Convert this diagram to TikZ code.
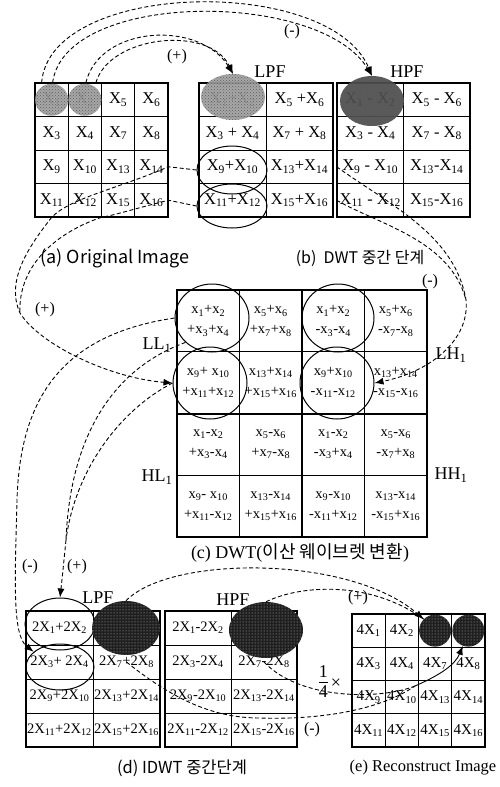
\documentclass[tikz,border=0pt]{standalone}
\usepackage{fontspec}
\setmainfont{Liberation Serif}
\newfontfamily\krfont{Noto Sans CJK KR}
\usetikzlibrary{shapes.geometric}
\usetikzlibrary{patterns}
\usetikzlibrary{arrows.meta}

\newcommand{\xs}[1]{X\textsubscript{#1}}
\newcommand{\ls}[1]{x\textsubscript{#1}}

\tikzset{
  cell/.style={draw, line width=0.8pt, inner sep=0pt},
  cella/.style={cell, minimum width=33.25pt, minimum height=33.5pt, font=\fontsize{16.5}{16}\selectfont},
  cellb/.style={cell, minimum width=67pt, minimum height=33.5pt, font=\fontsize{16.5}{16}\selectfont},
  cellc/.style={cell, minimum width=62.5pt, minimum height=61.75pt, align=center, font=\fontsize{14.5}{20}\selectfont},
  celld/.style={cell, minimum width=67pt, minimum height=34pt, font=\fontsize{14.5}{14}\selectfont},
  celle/.style={cell, minimum width=33.25pt, minimum height=33.25pt, font=\fontsize{15}{15}\selectfont},
  frame/.style={line width=2pt},
  grayblob/.style={ellipse, inner sep=0pt, fill=gray!75, fill opacity=0.92, postaction={pattern=crosshatch dots, pattern color=black!65}},
  darkblob/.style={ellipse, inner sep=0pt, fill=black!88, postaction={pattern=dots, pattern color=white!75!black}},
  ring/.style={ellipse, inner sep=0pt, draw, line width=1pt},
  conn/.style={line width=0.9pt, dash pattern=on 4pt off 2.5pt},
  lbl/.style={font=\fontsize{18}{18}\selectfont},
  sign/.style={font=\fontsize{16}{16}\selectfont},
  caption/.style={font=\fontsize{16}{16}\selectfont}
}

\begin{document}
\begin{tikzpicture}[x=1pt, y=-1pt, >={Latex[length=9pt,width=7pt]}]
\useasboundingbox (0,0) rectangle (499,787);

% (a) original image
\foreach \t [count=\n from 0] in {\xs{1},\xs{2},\xs{5},\xs{6},\xs{3},\xs{4},\xs{7},\xs{8},\xs{9},\xs{10},\xs{13},\xs{14},\xs{11},\xs{12},\xs{15},\xs{16}} {
  \pgfmathtruncatemacro\ri{int(\n/4)+1}
  \pgfmathtruncatemacro\ci{mod(\n,4)+1}
  \node[cella] (a\ri\ci) at ({35+33.25*(\ci-0.5)},{83+33.5*(\ri-0.5)}) {\t};
}
\draw[frame] (a11.north west) rectangle (a44.south east);

% (b) LPF and HPF
\foreach \t [count=\n from 0] in {\xs{1}+\xs{2},\xs{5} +\xs{6},\xs{3} + \xs{4},\xs{7} + \xs{8},\xs{9}+\xs{10},\xs{13}+\xs{14},\xs{11}+\xs{12},\xs{15}+\xs{16}} {
  \pgfmathtruncatemacro\ri{int(\n/2)+1}
  \pgfmathtruncatemacro\ci{mod(\n,2)+1}
  \node[cellb] (b\ri\ci) at ({199+67*(\ci-0.5)},{83+33.5*(\ri-0.5)}) {\t};
}
\draw[frame] (b11.north west) rectangle (b42.south east);
\foreach \t [count=\n from 0] in {\xs{1} - \xs{2},\xs{5} - \xs{6},\xs{3} - \xs{4},\xs{7} - \xs{8},\xs{9} - \xs{10},\xs{13}-\xs{14},\xs{11} - \xs{12},\xs{15}-\xs{16}} {
  \pgfmathtruncatemacro\ri{int(\n/2)+1}
  \pgfmathtruncatemacro\ci{mod(\n,2)+1}
  \node[cellb, minimum width=66.5pt] (h\ri\ci) at ({337+66.5*(\ci-0.5)},{83+33.5*(\ri-0.5)}) {\t};
}
\draw[frame] (h11.north west) rectangle (h42.south east);

% (c) DWT
\foreach \t [count=\n from 0] in {
  {\ls{1}+\ls{2}\\+\ls{3}+\ls{4}}, {\ls{5}+\ls{6}\\+\ls{7}+\ls{8}}, {\ls{1}+\ls{2}\\-\ls{3}-\ls{4}}, {\ls{5}+\ls{6}\\-\ls{7}-\ls{8}},
  {\ls{9}+ \ls{10}\\+\ls{11}+\ls{12}}, {\ls{13}+\ls{14}\\+\ls{15}+\ls{16}}, {\ls{9}+\ls{10}\\-\ls{11}-\ls{12}}, {\ls{13}+\ls{14}\\-\ls{15}-\ls{16}},
  {\ls{1}-\ls{2}\\+\ls{3}-\ls{4}}, {\ls{5}-\ls{6}\\+\ls{7}-\ls{8}}, {\ls{1}-\ls{2}\\-\ls{3}+\ls{4}}, {\ls{5}-\ls{6}\\-\ls{7}+\ls{8}},
  {\ls{9}- \ls{10}\\+\ls{11}-\ls{12}}, {\ls{13}-\ls{14}\\+\ls{15}+\ls{16}}, {\ls{9}-\ls{10}\\-\ls{11}+\ls{12}}, {\ls{13}-\ls{14}\\-\ls{15}+\ls{16}}} {
  \pgfmathtruncatemacro\ri{int(\n/4)+1}
  \pgfmathtruncatemacro\ci{mod(\n,4)+1}
  \node[cellc] (c\ri\ci) at ({177+62.5*(\ci-0.5)},{290+61.75*(\ri-0.5)}) {\t};
}
\draw[frame] (c11.north west) rectangle (c44.south east);
\draw[frame] (c12.north east) -- (c42.south east);
\draw[frame] (c21.south west) -- (c24.south east);

% (d) IDWT LPF and HPF
\foreach \t [count=\n from 0] in {2\xs{1}+2\xs{2},2\xs{5}+2\xs{6},2\xs{3}+ 2\xs{4},2\xs{7}+2\xs{8},2\xs{9}+2\xs{10},2\xs{13}+2\xs{14},2\xs{11}+2\xs{12},2\xs{15}+2\xs{16}} {
  \pgfmathtruncatemacro\ri{int(\n/2)+1}
  \pgfmathtruncatemacro\ci{mod(\n,2)+1}
  \node[celld] (d\ri\ci) at ({26+67*(\ci-0.5)},{611+34*(\ri-0.5)}) {\t};
}
\draw[frame] (d11.north west) rectangle (d42.south east);
\foreach \t [count=\n from 0] in {2\xs{1}-2\xs{2},2\xs{5}-2\xs{6},2\xs{3}-2\xs{4},2\xs{7}-2\xs{8},2\xs{9}-2\xs{10},2\xs{13}-2\xs{14},2\xs{11}-2\xs{12},2\xs{15}-2\xs{16}} {
  \pgfmathtruncatemacro\ri{int(\n/2)+1}
  \pgfmathtruncatemacro\ci{mod(\n,2)+1}
  \node[celld, minimum width=66pt] (g\ri\ci) at ({165+66*(\ci-0.5)},{611+34*(\ri-0.5)}) {\t};
}
\draw[frame] (g11.north west) rectangle (g42.south east);

% (e) reconstruct image
\foreach \t [count=\n from 0] in {4\xs{1},4\xs{2},4\xs{5},4\xs{6},4\xs{3},4\xs{4},4\xs{7},4\xs{8},4\xs{9},4\xs{10},4\xs{13},4\xs{14},4\xs{11},4\xs{12},4\xs{15},4\xs{16}} {
  \pgfmathtruncatemacro\ri{int(\n/4)+1}
  \pgfmathtruncatemacro\ci{mod(\n,4)+1}
  \node[celle] (e\ri\ci) at ({352+33.25*(\ci-0.5)},{614+33.25*(\ri-0.5)}) {\t};
}
\draw[frame] (e11.north west) rectangle (e44.south east);

% blobs and rings
\node[grayblob, minimum width=33pt, minimum height=32pt] (blobA1) at (a11) {};
\node[grayblob, minimum width=33pt, minimum height=32pt] (blobA2) at (a12) {};
\node[grayblob, minimum width=64pt, minimum height=46pt] (blobB) at (233,97) {};
\node[grayblob, fill=black!70, minimum width=64pt, minimum height=50pt] (blobH) at (372,101) {};
\node[ring, minimum width=70pt, minimum height=48pt] (ringB1) at (232,170) {};
\node[ring, minimum width=70pt, minimum height=44pt] (ringB2) at (232,206) {};
\node[ring, minimum width=74pt, minimum height=68pt] (ringC1) at (212,318) {};
\node[ring, minimum width=74pt, minimum height=72pt] (ringC2) at (210,383) {};
\node[ring, minimum width=72pt, minimum height=68pt] (ringC3) at (338,318) {};
\node[ring, minimum width=74pt, minimum height=72pt] (ringC4) at (337,383) {};
\node[ring, minimum width=70pt, minimum height=52pt] (ringD1) at (60,624) {};
\node[ring, minimum width=68pt, minimum height=46pt] (ringD2) at (60,667) {};
\node[darkblob, minimum width=68pt, minimum height=54pt] (blobD) at (126,628) {};
\node[darkblob, minimum width=74pt, minimum height=56pt] (blobG) at (266,630) {};
\node[darkblob, minimum width=32pt, minimum height=32pt] (blobE1) at (e13) {};
\node[darkblob, minimum width=32pt, minimum height=32pt] (blobE2) at (e14) {};

% labels
\node[lbl] (lpfB) at (270,72) {LPF};
\node[lbl] (hpfB) at (407,72) {HPF};
\node[lbl] (lpfD) at (98,598) {LPF};
\node[lbl] (hpfD) at (233,600) {HPF};
\node[lbl] (ll) at (157,345) {LL\textsubscript{1}};
\node[lbl] (lh) at (451,355) {LH\textsubscript{1}};
\node[lbl] (hl) at (157,477) {HL\textsubscript{1}};
\node[lbl] (hh) at (451,475) {HH\textsubscript{1}};
\node[sign] (plusA) at (177,57) {(+)};
\node[sign] (minusA) at (292,32) {(-)};
\node[sign] (plusB) at (45,310) {(+)};
\node[sign] (minusB) at (430,282) {(-)};
\node[sign] (minusC) at (30,567) {(-)};
\node[sign] (plusC) at (77,567) {(+)};
\node[sign] (plusD) at (358,598) {(+)};
\node[sign] (minusD) at (312,730) {(-)};
\node[font=\fontsize{18}{18}\selectfont, inner sep=0pt] (quarter) at (330,684)
  {\begin{tabular}{@{}c@{}}1\\[-1pt]\hline\rule{0pt}{15pt}4\end{tabular}\,×};

% captions
\node[caption, font=\fontsize{18}{18}\selectfont] (capA) at (115,258) {\krfont (a) Original Image};
\node[caption] (capB) at (360,258) {\krfont (b)\ \ DWT 중간 단계};
\node[caption, font=\fontsize{18}{18}\selectfont] (capC) at (300,553) {(c) DWT({\krfont 이산 웨이브렛 변환})};
\node[caption, font=\fontsize{16.5}{16}\selectfont] (capD) at (182,768) {\krfont (d) IDWT 중간단계};
\node[caption, font=\fontsize{16.5}{16}\selectfont] (capE) at (423,768) {(e) Reconstruct Image};

% connectors (a) -> (b)
\draw[conn,->] ([xshift=-10pt]a11.north) .. controls (50,-20) and (330,-25) .. (blobH.north);
\draw[conn,->] ([xshift=1pt]a11.north) .. controls (65,-10) and (320,-10) .. (blobH.north);
\draw[conn,->] ([xshift=1pt]a12.north) .. controls (100,25) and (200,20) .. (blobB.north);
\draw[conn,->] ([xshift=11pt]a12.north) .. controls (110,35) and (210,25) .. (blobB.north);

% connectors (b) -> (c)
\coordinate (joinL) at (20,313);
\coordinate (joinR) at (466,300);
\draw[conn,->] (ringB1.west) -- (a34.east) .. controls (120,188) and (70,198) .. (a41.south)
  .. controls (30,245) and (5,280) .. (joinL) .. controls (40,345) and (110,378) .. (ringC2.west);
\draw[conn] (ringB2.west) -- (a44.east) .. controls (130,210) and (115,215) .. (a43.south west)
  .. controls (50,235) and (18,270) .. (joinL);
\draw[conn,->] (h31.west) .. controls (390,205) and (455,235) .. (joinR)
  .. controls (470,340) and (430,372) .. (ringC4.east);
\draw[conn] (h41.west) .. controls (380,225) and (450,240) .. (joinR);

% connectors (c) -> (d)
\coordinate (joinD) at (66,540);
\draw[conn,->] (ringC1.west) .. controls (60,335) and (20,400) .. (17,500)
  .. controls (15,580) and (12,635) .. (ringD2.150);
\draw[conn] (ringC1.south west) .. controls (110,370) and (70,440) .. (joinD);
\draw[conn] (ringC2.west) .. controls (120,410) and (75,470) .. (joinD);
\draw[conn,->] (joinD) .. controls (64,560) and (62,580) .. (ringD1.north);

% connectors (d) -> (e)
\coordinate (joinE) at (415,686);
\draw[conn,->] (blobD.north) .. controls (170,555) and (350,555) .. (blobE1.north west);
\draw[conn] (blobG.north) .. controls (300,585) and (370,580) .. (blobE1.north west);
\draw[conn] (d22.center) .. controls (180,705) and (220,718) .. (260,718)
  .. controls (320,720) and (380,710) .. (joinE);
\draw[conn] (g22.center) .. controls (300,700) and (380,700) .. (joinE);
\draw[line width=0.9pt,->] (joinE) .. controls (440,675) and (455,665) .. (blobE2.250);
\end{tikzpicture}
\end{document}
